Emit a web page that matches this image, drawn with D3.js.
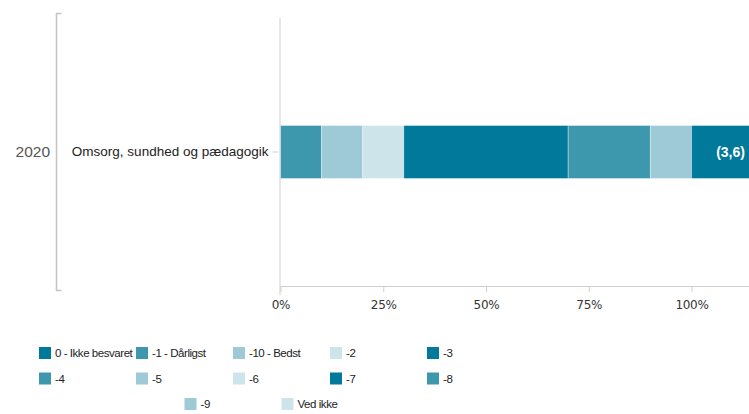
<!DOCTYPE html>
<html lang="en">
<head>
<meta charset="utf-8">
<title>Omsorg, sundhed og pædagogik 2020</title>
<script src="https://cdn.jsdelivr.net/npm/d3@7"></script>
<style>
  body { margin: 0; background: #fff; }
  svg { display: block; }
</style>
</head>
<body>
<script>
// data
var groupLabel = "2020";
var categories = ["Omsorg, sundhed og pædagogik"];
var seriesNames = ["0 - Ikke besvaret", "-1 - Dårligst", "-10 - Bedst", "-2", "-3", "-4", "-5", "-6", "-7", "-8", "-9", "Ved ikke"];
var seriesValues = [0, 10, 10, 10, 40, 20, 10, 0, 19, 0, 0, 0]; // percent
var seriesColors = ["#00799a", "#3d98ae", "#9dcad6", "#cde4eb"]; // repeats every 4 series
var barLabel = "(3,6)";
var tickValues = [0, 25, 50, 75, 100];

var w = 749, h = 414;
var plotLeft = 280.5, plotTop = 18, plotBottom = 286;

var svg = d3.select("body").append("svg")
  .attr("width", w)
  .attr("height", h);

var x = d3.scaleLinear().domain([0, 100]).range([plotLeft, 691.5]);
var y = d3.scaleBand().domain(categories).range([plotTop, plotBottom]).padding(0.67);
var color = function(i) { return seriesColors[i % seriesColors.length]; };

// stack the values
var rows = [{ cat: categories[0] }];
seriesNames.forEach(function(n, i) { rows[0][n] = seriesValues[i]; });
var stacked = d3.stack().keys(seriesNames)(rows);
var shown = stacked.filter(function(s) { return s[0][1] > s[0][0]; });

svg.append("g").selectAll("rect")
  .data(shown)
  .enter().append("rect")
  .attr("x", function(s) { return x(s[0][0]); })
  .attr("y", function(s) { return y(s[0].data.cat); })
  .attr("width", function(s) { return x(s[0][1]) - x(s[0][0]); })
  .attr("height", y.bandwidth())
  .attr("fill", function(s) { return color(s.index); })
  .attr("stroke", "#fff")
  .attr("stroke-opacity", 0.35)
  .attr("stroke-width", 1);

// value label on the last segment
var last = shown[shown.length - 1];
svg.append("text")
  .attr("x", (x(last[0][0]) + x(last[0][1])) / 2)
  .attr("y", y(categories[0]) + y.bandwidth() / 2)
  .attr("dy", "0.35em")
  .attr("text-anchor", "middle")
  .attr("fill", "#fff")
  .attr("font-weight", "bold")
  .attr("font-size", 14)
  .attr("font-family", "'Liberation Sans', Arial, sans-serif")
  .text(barLabel);

// x axis
var xAxis = svg.append("g")
  .attr("transform", "translate(0," + plotBottom + ")")
  .call(d3.axisBottom(x).tickValues(tickValues).tickSize(6).tickSizeOuter(0)
    .tickFormat(function(d) { return d + "%"; }));
xAxis.select(".domain").attr("d", "M" + plotLeft + ",0.5H" + w).attr("stroke", "#cfcfcf");
xAxis.selectAll(".tick line").attr("stroke", "#cfcfcf");
xAxis.selectAll(".tick text")
  .attr("dy", "1.2em")
  .attr("fill", "#333")
  .attr("font-size", 12)
  .attr("font-family", "'DejaVu Sans', sans-serif")
  .attr("letter-spacing", -0.3);

// y axis
var yAxis = svg.append("g")
  .attr("transform", "translate(" + plotLeft + ",0)")
  .call(d3.axisLeft(y).tickSize(8).tickSizeOuter(0));
yAxis.select(".domain").attr("d", "M-0.5," + plotTop + "V295").attr("stroke", "#cfcfcf");
yAxis.selectAll(".tick line").attr("stroke", "#cfcfcf").attr("x1", -2);
yAxis.selectAll(".tick text")
  .attr("x", -12)
  .attr("fill", "#222")
  .attr("font-size", 13.5)
  .attr("font-family", "'Liberation Sans', Arial, sans-serif");

// group bracket
svg.append("path")
  .attr("d", "M61.5,13.5H56.5V290.5H61.5")
  .attr("fill", "none")
  .attr("stroke", "#c4c4c4")
  .attr("stroke-width", 1.5);
svg.append("text")
  .attr("x", 50)
  .attr("y", y(categories[0]) + y.bandwidth() / 2)
  .attr("dy", "0.35em")
  .attr("text-anchor", "end")
  .attr("fill", "#555")
  .attr("font-size", 15.5)
  .attr("font-family", "'Liberation Sans', Arial, sans-serif")
  .text(groupLabel);

// legend: 5 per row, last row centred
var perRow = 5, colW = 97, rowH = 25.5, legendLeft = 39, legendTop = 347;
seriesNames.forEach(function(n, i) {
  var r = Math.floor(i / perRow), c = i % perRow;
  var inRow = Math.min(perRow, seriesNames.length - r * perRow);
  var offset = (perRow - inRow) * colW / 2;
  var g = svg.append("g")
    .attr("transform", "translate(" + (legendLeft + offset + c * colW) + "," + (legendTop + r * rowH) + ")");
  g.append("rect")
    .attr("width", 12)
    .attr("height", 12)
    .attr("fill", color(i));
  g.append("text")
    .attr("x", 16)
    .attr("y", 6)
    .attr("dy", "0.35em")
    .attr("fill", "#222")
    .attr("font-size", 11.5)
    .attr("letter-spacing", -0.45)
    .attr("font-family", "'Liberation Sans', Arial, sans-serif")
    .text(n);
});
</script>
</body>
</html>
